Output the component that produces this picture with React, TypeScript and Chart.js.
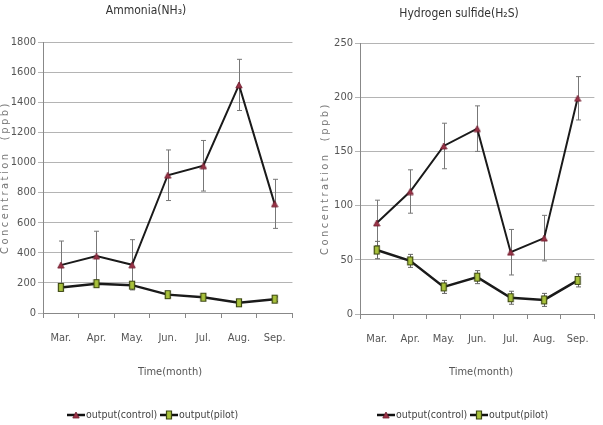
import React, { useEffect, useRef } from "react";
import { Chart, registerables } from "chart.js";

Chart.register(...registerables);

const months = ["Mar.", "Apr.", "May.", "Jun.", "Jul.", "Aug.", "Sep."];

const nh3Control = [318, 378, 320, 915, 978, 1515, 725];
const nh3ControlErr = [160, 165, 167, 168, 168, 170, 163];
const nh3Pilot = [170, 195, 185, 122, 105, 68, 92];
const nh3PilotErr = [22, 22, 22, 18, 18, 15, 15];

const h2sControl = [84, 113, 155, 171, 57, 70, 199];
const h2sControlErr = [21, 20, 21, 21, 21, 21, 20];
const h2sPilot = [59, 49, 25, 34, 15, 13, 31];
const h2sPilotErr = [8, 6, 6, 6, 6, 6, 6];

const nh3Axis = { max: 1800, step: 200 };
const h2sAxis = { max: 250, step: 50 };

const FONT = "'DejaVu Sans Condensed', 'Liberation Sans Narrow', 'Liberation Sans', sans-serif";

function makeTriangle(): HTMLCanvasElement {
  const c = document.createElement("canvas");
  c.width = 8;
  c.height = 8;
  const ctx = c.getContext("2d")!;
  ctx.beginPath();
  ctx.moveTo(4, 1);
  ctx.lineTo(7.2, 7);
  ctx.lineTo(0.8, 7);
  ctx.closePath();
  ctx.fillStyle = "#9a3347";
  ctx.fill();
  ctx.strokeStyle = "#6e1d2e";
  ctx.lineWidth = 0.8;
  ctx.stroke();
  return c;
}

function makeRect(w: number, h: number): HTMLCanvasElement {
  const c = document.createElement("canvas");
  c.width = w + 2;
  c.height = h + 2;
  const ctx = c.getContext("2d")!;
  ctx.fillStyle = "#a9c23c";
  ctx.strokeStyle = "#3c4712";
  ctx.lineWidth = 1.2;
  ctx.beginPath();
  ctx.rect(1.5, 1.5, w - 1, h - 1);
  ctx.fill();
  ctx.stroke();
  return c;
}

type PanelProps = {
  left: number;
  width: number;
  title: string;
  titleX: number;
  titleY: number;
  control: number[];
  controlErr: number[];
  pilot: number[];
  pilotErr: number[];
  axis: { max: number; step: number };
  padLeft: number;
  padRight: number;
  padTop: number;
  yWidth: number;
  xHeight: number;
  yTitleX: number;
  xTitleX: number;
  legendX: number[];
};

function Panel(p: PanelProps) {
  const ref = useRef<HTMLCanvasElement | null>(null);
  useEffect(() => {
    const canvas = ref.current!;
    const tri = makeTriangle();
    const rect = makeRect(6, 9);

    const errorPlugin = {
      id: "errbars",
      beforeDatasetsDraw(chart: any) {
        const ctx = chart.ctx;
        const xs = chart.scales.x;
        const ys = chart.scales.y;
        ctx.save();
        chart.data.datasets.forEach((ds: any) => {
          ctx.strokeStyle = ds.errColor;
          ctx.lineWidth = 1;
          ds.data.forEach((v: number, i: number) => {
            const e = ds.errors[i];
            const x = Math.round(xs.getPixelForValue(i)) + 0.5;
            const yt = ys.getPixelForValue(v + e);
            const yb = ys.getPixelForValue(Math.max(0, v - e));
            ctx.beginPath();
            ctx.moveTo(x, yt);
            ctx.lineTo(x, yb);
            ctx.moveTo(x - 2.5, yt);
            ctx.lineTo(x + 2.5, yt);
            ctx.moveTo(x - 2.5, yb);
            ctx.lineTo(x + 2.5, yb);
            ctx.stroke();
          });
        });
        ctx.restore();
      },
    };

    const textPlugin = {
      id: "texts",
      afterDraw(chart: any) {
        const ctx = chart.ctx;
        const area = chart.chartArea;
        ctx.save();
        ctx.textAlign = "center";
        ctx.textBaseline = "middle";
        ctx.fillStyle = "#333";
        ctx.font = `12px ${FONT}`;
        ctx.fillText(p.title, p.titleX, p.titleY);

        ctx.fillStyle = "#555";
        ctx.font = `11px ${FONT}`;
        ctx.fillText("Time(month)", p.xTitleX, 372);

        ctx.save();
        ctx.translate(p.yTitleX, (area.top + area.bottom) / 2);
        ctx.rotate(-Math.PI / 2);
        (ctx as any).letterSpacing = "2.5px";
        ctx.fillStyle = "#777";
        ctx.font = `11px ${FONT}`;
        ctx.fillText("Concentration  (ppb)", 0, 0);
        ctx.restore();

        const items = [
          { label: "output(control)", img: tri },
          { label: "output(pilot)", img: rect },
        ];
        const ly = 415;
        items.forEach((it, k) => {
          const x0 = p.legendX[k];
          ctx.strokeStyle = "#111";
          ctx.lineWidth = 2.5;
          ctx.beginPath();
          ctx.moveTo(x0, ly);
          ctx.lineTo(x0 + 18, ly);
          ctx.stroke();
          ctx.drawImage(it.img, x0 + 9 - it.img.width / 2, ly - it.img.height / 2);
          ctx.textAlign = "left";
          ctx.fillStyle = "#444";
          ctx.font = `10.5px ${FONT}`;
          ctx.fillText(it.label, x0 + 19, ly);
        });
        ctx.restore();
      },
    };

    const chart = new Chart(canvas, {
      type: "line",
      data: {
        labels: months,
        datasets: [
          {
            label: "output(control)",
            data: p.control,
            errors: p.controlErr,
            errColor: "#777",
            borderColor: "#1a1a1a",
            borderWidth: 2,
            pointStyle: tri,
            tension: 0,
          } as any,
          {
            label: "output(pilot)",
            data: p.pilot,
            errors: p.pilotErr,
            errColor: "#666",
            borderColor: "#1a1a1a",
            borderWidth: 2.5,
            pointStyle: rect,
            tension: 0,
          } as any,
        ],
      },
      options: {
        responsive: false,
        devicePixelRatio: 1,
        animation: false,
        layout: { padding: { top: p.padTop, left: p.padLeft, right: p.padRight, bottom: 0 } },
        plugins: { legend: { display: false }, title: { display: false }, tooltip: { enabled: false } },
        scales: {
          x: {
            type: "category",
            offset: true,
            grid: { display: true, drawOnChartArea: false, offset: true, tickLength: 5, color: "#888" },
            border: { color: "#888", width: 1 },
            ticks: { color: "#555", font: { family: FONT, size: 11 }, padding: 14, maxRotation: 0 },
            afterFit: (s: any) => {
              s.height = p.xHeight;
            },
          },
          y: {
            min: 0,
            max: p.axis.max,
            ticks: {
              stepSize: p.axis.step,
              color: "#555",
              font: { family: FONT, size: 11 },
              padding: 2,
              callback: (v: any) => String(v),
            },
            grid: { color: "#b4b4b4", tickLength: 5, lineWidth: 1 },
            border: { color: "#888", width: 1 },
            afterFit: (s: any) => {
              s.width = p.yWidth;
            },
          },
        },
      } as any,
      plugins: [errorPlugin, textPlugin],
    });
    return () => chart.destroy();
  }, []);

  return (
    <canvas
      ref={ref}
      width={p.width}
      height={425}
      style={{ position: "absolute", left: p.left, top: 0, width: p.width, height: 425 }}
    />
  );
}

export default function App() {
  return (
    <div style={{ position: "absolute", left: 0, top: 0, width: 603, height: 425, background: "#fff", overflow: "hidden" }}>
      <Panel
        left={0}
        width={300}
        title="Ammonia(NH₃)"
        titleX={146}
        titleY={11}
        control={nh3Control}
        controlErr={nh3ControlErr}
        pilot={nh3Pilot}
        pilotErr={nh3PilotErr}
        axis={nh3Axis}
        padLeft={0}
        padRight={3}
        padTop={42}
        yWidth={43}
        xHeight={112}
        yTitleX={5}
        xTitleX={170}
        legendX={[67, 160]}
      />
      <Panel
        left={300}
        width={303}
        title="Hydrogen sulfide(H₂S)"
        titleX={159}
        titleY={14}
        control={h2sControl}
        controlErr={h2sControlErr}
        pilot={h2sPilot}
        pilotErr={h2sPilotErr}
        axis={h2sAxis}
        padLeft={18}
        padRight={5}
        padTop={43}
        yWidth={42}
        xHeight={111}
        yTitleX={25}
        xTitleX={181}
        legendX={[77, 170]}
      />
    </div>
  );
}
